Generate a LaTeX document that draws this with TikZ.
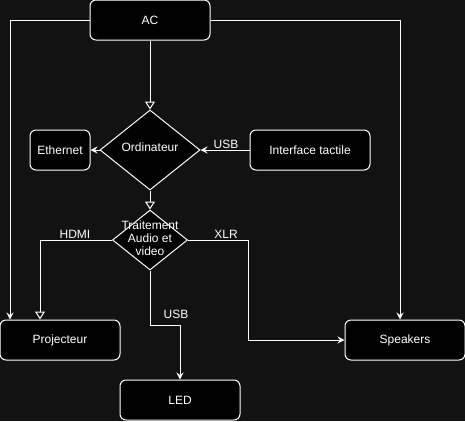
\documentclass[tikz,border=0pt]{standalone}
\usepackage{fontspec}
\setmainfont{Liberation Sans}
\usetikzlibrary{arrows.meta,shapes.geometric}
\definecolor{bgc}{HTML}{121212}
\begin{document}
\begin{tikzpicture}[x=1pt,y=-1pt,
  every node/.style={text=white,font=\fontsize{12}{14}\selectfont},
  box/.style={draw=white,fill=black,line width=1pt,rounded corners=6pt,minimum width=120pt,minimum height=40pt,inner sep=0pt},
  sbox/.style={box,minimum width=60pt},
  dia/.style={draw=white,fill=black,line width=1pt,diamond,inner sep=0pt},
  lbl/.style={inner sep=1pt},
  con/.style={draw=white,line width=1pt},
  fa/.style={-{Stealth[length=7pt,width=7pt,inset=2.5pt]}},
  oa/.style={-{Triangle[open,length=8pt,width=10pt,fill=bgc]}}]
\fill[bgc] (0,0) rectangle (465,421);
\useasboundingbox (0,0) rectangle (465,421);
% nodes
\node[box] (ac) at (150,20) {AC};
\node[dia,minimum width=100pt,minimum height=80pt] (ord) at (150,150) {};
\node (ordl) at (150,147) {Ordinateur};
\node[sbox] (eth) at (60,150) {Ethernet};
\node[box] (it) at (310,150) {Interface tactile};
\node[dia,minimum width=75pt,minimum height=60pt] (trt) at (150,240) {};
\node[align=center,inner sep=0pt] (trtl) at (150,238) {Traitement\\[-1pt]Audio et\\[-1pt]video};
\node[box] (proj) at (60,340) {Projecteur};
\node[box] (spk) at (405,340) {Speakers};
\node[box] (led) at (180,400) {LED};
% connectors
\draw[con,oa] (ac.south) -- (ord.north);
\draw[con,fa] (ac.west) -| (proj.north -| 10,0);
\draw[con,fa] (ac.east) -| (spk.north -| 400,0);
\draw[con,fa] (it.west) -- (ord.east);
\node[lbl] (usb1) at (226,144) {USB};
\draw[con,fa] (ord.west) -- (eth.east);
\draw[con,oa] (ord.south) -- (trt.north);
\draw[con,oa] (trt.west) -| (proj.north -| 40,0);
\node[lbl] (hdmi) at (75,234) {HDMI};
\draw[con,fa] (trt.east) -| (248,340) -- (spk.west);
\node[lbl] (xlr) at (226,234) {XLR};
\coordinate (k1) at (150,325);
\coordinate (k2) at (180,325);
\draw[con,fa] (trt.south) -- (k1) -- (k2) -- (led.north);
\node[lbl,fill=bgc] (usb2) at (176,314) {USB};
\end{tikzpicture}
\end{document}
